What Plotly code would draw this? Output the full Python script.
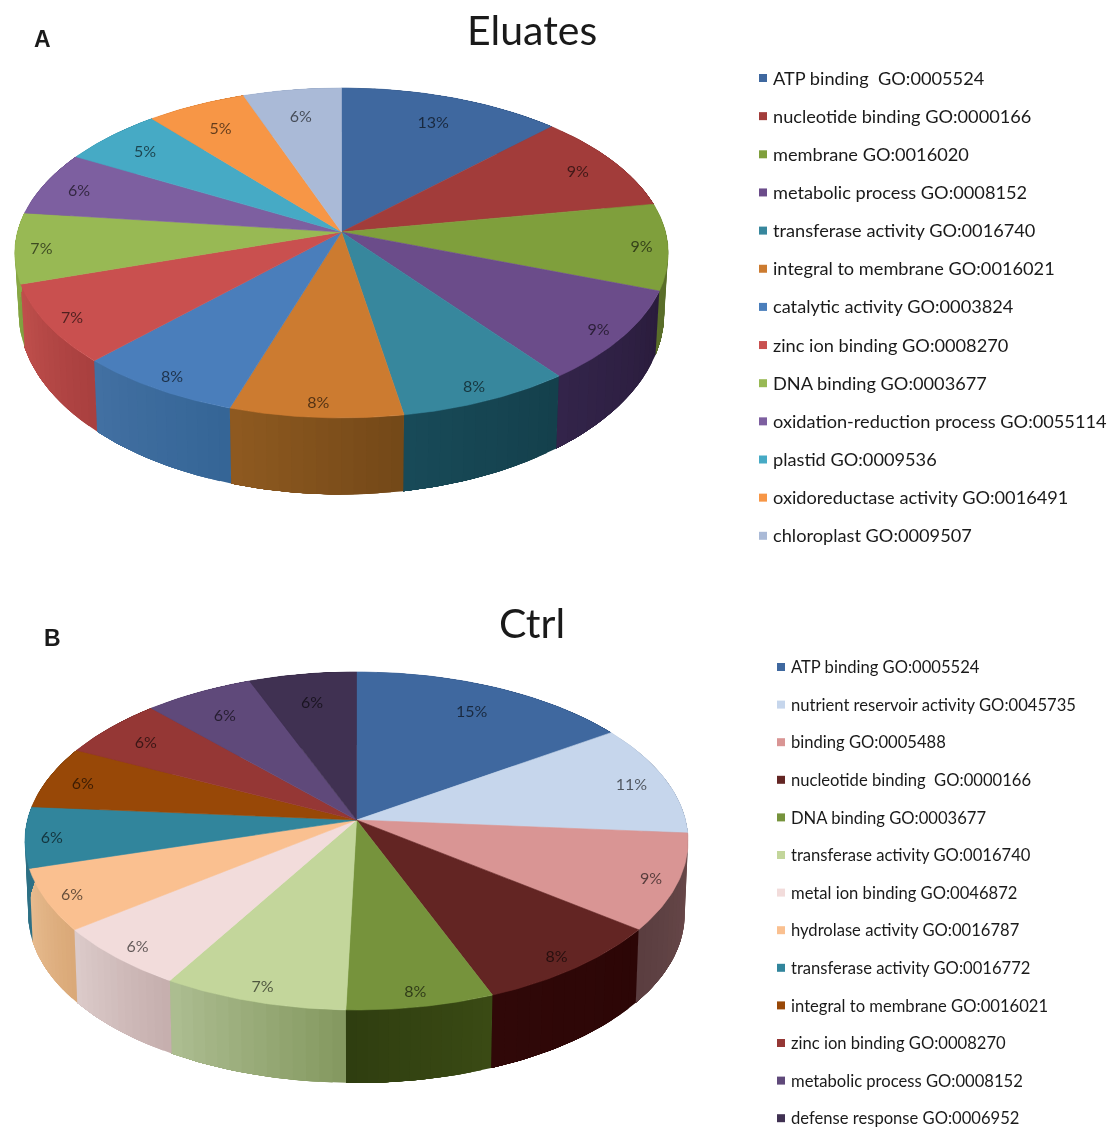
import math
import plotly.graph_objects as go

# ---- Data ----
a_values = [12.5, 9.7, 8.45, 9.05, 7.6, 7.6, 7.3, 7.8, 6.9, 6.3, 5.7, 5.6, 5.5]
a_labels = ["13%", "9%", "9%", "9%", "8%", "8%", "8%", "7%", "7%", "6%", "5%", "5%", "6%"]
a_names = [
    "ATP binding\u00a0 GO:0005524", "nucleotide binding GO:0000166", "membrane GO:0016020",
    "metabolic process GO:0008152", "transferase activity GO:0016740",
    "integral to membrane GO:0016021", "catalytic activity GO:0003824",
    "zinc ion binding GO:0008270", "DNA binding GO:0003677",
    "oxidation-reduction process GO:0055114", "plastid GO:0009536",
    "oxidoreductase activity GO:0016491", "chloroplast GO:0009507",
]
b_values = [15.5, 10.7, 9.2, 8.6, 6.4, 8.0, 6.1, 5.9, 5.8, 6.0, 5.8, 6.0, 5.9]
b_labels = ["15%", "11%", "9%", "8%", "8%", "7%", "6%", "6%", "6%", "6%", "6%", "6%", "6%"]
b_names = [
    "ATP binding GO:0005524", "nutrient reservoir activity GO:0045735", "binding GO:0005488",
    "nucleotide binding\u00a0 GO:0000166", "DNA binding GO:0003677",
    "transferase activity GO:0016740", "metal ion binding GO:0046872",
    "hydrolase activity GO:0016787", "transferase activity GO:0016772",
    "integral to membrane GO:0016021", "zinc ion binding GO:0008270",
    "metabolic process GO:0008152", "defense response GO:0006952",
]

# ---- Colours ----
a_top = ["#3F689F", "#A23C3A", "#7F9F3C", "#6B4C8A", "#37879D", "#CC7B30", "#4A7EBB",
         "#C9504F", "#98B954", "#7D5FA0", "#46AAC5", "#F79646", "#AABAD7"]
a_wall_start = ["#2C4A72", "#7A2C2A", "#5A6E2A", "#2A1C3C", "#14404C", "#734818", "#356596",
                "#A83F3E", "#7FA040", "#5F4680", "#358BA0", "#C87830", "#8A9AB8"]
a_wall_end = ["#2C4A72", "#7A2C2A", "#5A6E2A", "#33244A", "#184A58", "#8F5A20", "#4270A2",
              "#C0504D", "#8FAE48", "#5F4680", "#358BA0", "#C87830", "#8A9AB8"]
b_top = ["#3F689F", "#C6D6EC", "#D99594", "#632523", "#76933C", "#C3D69B", "#F2DCDB",
         "#FAC090", "#31859C", "#984807", "#953735", "#5F497A", "#403152"]
b_wall_start = ["#2C4A72", "#8F9CB0", "#6B4A4B", "#2C0606", "#3A4A14", "#84985F", "#C5AEAD",
                "#D9A877", "#2D7085", "#6E3505", "#6E2826", "#45355A", "#2E233C"]
b_wall_end = ["#2C4A72", "#8F9CB0", "#5A3E40", "#300808", "#2F3E10", "#ADBE92", "#DCCBCA",
              "#E8BC90", "#2D7085", "#6E3505", "#6E2826", "#45355A", "#2E233C"]

W, H = 1112, 1127
fig = go.Figure()


def lerp(c1, c2, t):
    p = [int(c1[i:i + 2], 16) for i in (1, 3, 5)]
    q = [int(c2[i:i + 2], 16) for i in (1, 3, 5)]
    return "#%02X%02X%02X" % tuple(round(p[i] + (q[i] - p[i]) * t) for i in range(3))


def poly(xs, ys, color, width=0.6):
    fig.add_trace(go.Scatter(x=xs, y=ys, mode="lines", fill="toself", fillcolor=color,
                             line=dict(color=color, width=width), hoverinfo="skip", showlegend=False))


def pie3d(values, labels, tops, w0, w1, cx, cy, a, b, k, sx, sy, drop):
    def proj(r, th):
        u, v = r * math.sin(th), r * math.cos(th)
        d = 1 + k * v
        return cx + a * u / d, cy - b * v / d

    def low(x, y):
        return cx + (x - cx) * sx, cy + (y - cy) * sy + drop

    total = sum(values)
    edges = [0.0]
    for val in values:
        edges.append(edges[-1] + val / total * 2 * math.pi)

    # side wall: each gradient step runs on to the slice end, later steps paint over it
    strips = 14
    for i in range(len(values)):
        for s in range(strips):
            t0 = edges[i] + (edges[i + 1] - edges[i]) * s / strips
            t1 = edges[i + 1]
            ths = [t0 + (t1 - t0) * j / 24 for j in range(25)]
            upper = [proj(1, t) for t in ths]
            lower = [low(*p) for p in upper][::-1]
            pts = upper + lower
            poly([p[0] for p in pts], [p[1] for p in pts],
                 lerp(w0[i], w1[i], (s + 0.5) / strips), 0)

    # top surface
    for i in range(len(values)):
        n = 40
        ths = [edges[i] + (edges[i + 1] - edges[i]) * j / n for j in range(n + 1)]
        pts = [proj(0, 0)] + [proj(1, t) for t in ths] + [proj(0, 0)]
        poly([p[0] for p in pts], [p[1] for p in pts], tops[i])

    # percentage labels
    lx, ly = [], []
    for i in range(len(values)):
        th = (edges[i] + edges[i + 1]) / 2
        c = math.cos(th)
        r = 0.92 - 0.12 * max(c, 0)
        x, y = proj(r, th)
        lx.append(x)
        ly.append(y + 3)
    fig.add_trace(go.Scatter(x=lx, y=ly, mode="text", text=labels, hoverinfo="skip", showlegend=False,
                             textfont=dict(family="Lato", size=16, color="rgba(0,0,0,0.6)")))


def key(names, colors, x0, y0, step, size):
    ys = [y0 + step * i for i in range(len(names))]
    fig.add_trace(go.Scatter(x=[x0] * len(names), y=ys, mode="markers", hoverinfo="skip", showlegend=False,
                             marker=dict(symbol="square", size=8, color=colors, line=dict(width=0))))
    fig.add_trace(go.Scatter(x=[x0 + 10] * len(names), y=[v + 2 for v in ys], mode="text", text=names,
                             textposition="middle right", hoverinfo="skip", showlegend=False,
                             textfont=dict(family="Lato", size=size, color="#1A1A1A")))


pie3d(a_values, a_labels, a_top, a_wall_start, a_wall_end,
      341.5, 232, 324, 162.3, 0.127, 0.988, 1.1, 58)
pie3d(b_values, b_labels, b_top, b_wall_start, b_wall_end,
      356.5, 820, 329, 166.4, 0.124, 0.99, 1.0, 73)

key(a_names, a_top, 763, 78, 38.15, 18.2)
key(b_names, b_top, 781, 667, 37.6, 16.6)


def note(text, x, y, family, size, bold=False, color="#1A1A1A"):
    fig.add_annotation(x=x, y=y, xref="x", yref="y", text=f"<b>{text}</b>" if bold else text, showarrow=False,
                       font=dict(family=family, size=size, color=color), xanchor="center", yanchor="middle")


note("Eluates", 532, 29, "Lato", 41)
note("Ctrl", 532, 622, "Lato", 41)
note("A", 42, 39, "Liberation Sans", 23, True)
note("B", 52, 638, "Liberation Sans", 23, True)

fig.update_layout(
    width=W, height=H, margin=dict(l=0, r=0, t=0, b=0),
    paper_bgcolor="white", plot_bgcolor="white", showlegend=False,
    xaxis=dict(range=[0, W], visible=False, fixedrange=True),
    yaxis=dict(range=[H, 0], visible=False, fixedrange=True),
)
fig.write_html(
    "out.html",
    config={"displayModeBar": False},
    post_script="document.body.style.margin='0';document.body.style.overflow='hidden';"
                "document.querySelector('.plotly-graph-div').style.filter='blur(0.7px)';",
)
